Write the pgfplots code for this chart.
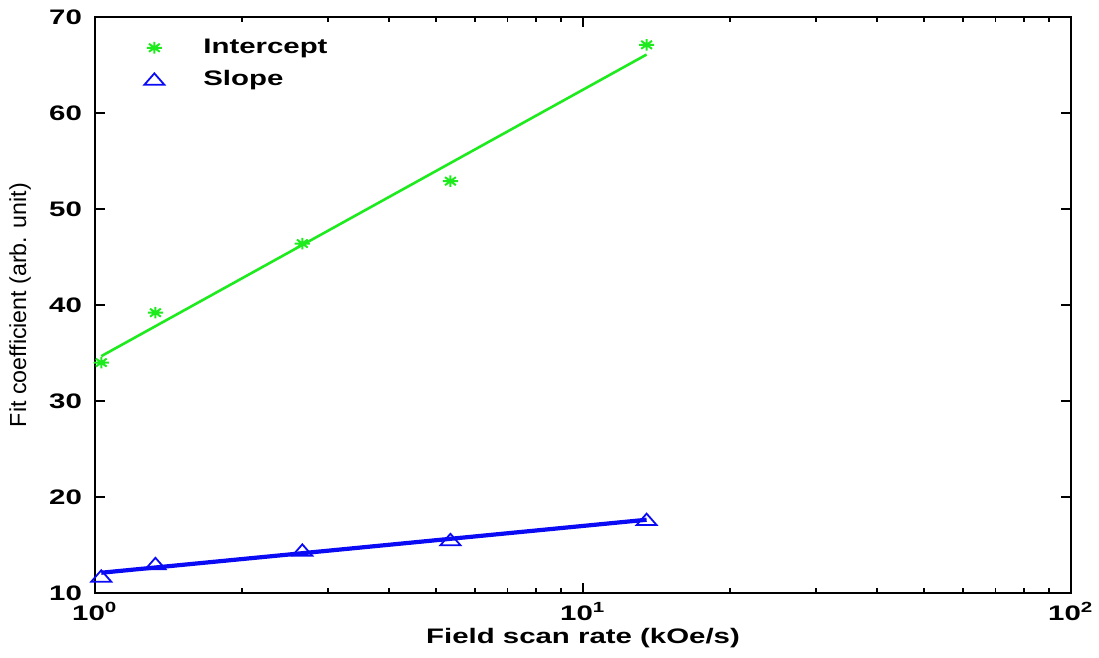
\documentclass[border=0pt]{standalone}
\usepackage{pgfplots}
\pgfplotsset{compat=1.18}
\usepackage{graphicx}
\usepackage{fontspec}
\setmainfont{Liberation Sans}
\definecolor{fitgreen}{RGB}{30,235,30}
\definecolor{fitblue}{RGB}{10,10,245}
% wide lettering used for the horizontal texts
\newcommand{\wide}[1]{\scalebox{1.4}[1]{#1}}
% eight-armed asterisk and flat open triangle
\pgfdeclareplotmark{wstar}{%
  \pgfpathmoveto{\pgfqpoint{-3.8pt}{0pt}}\pgfpathlineto{\pgfqpoint{3.8pt}{0pt}}%
  \pgfpathmoveto{\pgfqpoint{0pt}{-2.9pt}}\pgfpathlineto{\pgfqpoint{0pt}{2.9pt}}%
  \pgfpathmoveto{\pgfqpoint{-2.7pt}{-2.0pt}}\pgfpathlineto{\pgfqpoint{2.7pt}{2.0pt}}%
  \pgfpathmoveto{\pgfqpoint{-2.7pt}{2.0pt}}\pgfpathlineto{\pgfqpoint{2.7pt}{-2.0pt}}%
  \pgfusepathqstroke}
\pgfdeclareplotmark{wtri}{%
  \pgfpathmoveto{\pgfqpoint{0pt}{3.2pt}}%
  \pgfpathlineto{\pgfqpoint{5pt}{-2.5pt}}%
  \pgfpathlineto{\pgfqpoint{-5pt}{-2.5pt}}%
  \pgfpathclose\pgfusepathqstroke}
\begin{document}
\begin{tikzpicture}
\begin{axis}[
  name=ax,
  scale only axis,
  width=488pt, height=288pt,
  xmode=log,
  xmin=1, xmax=100,
  ymin=10, ymax=70,
  ytick={10,20,30,40,50,60,70},
  yticklabels={\wide{10},\wide{20},\wide{30},\wide{40},\wide{50},\wide{60},\wide{70}},
  xtick={1,10,100},
  xticklabels={\wide{10\textsuperscript{0}},\wide{10\textsuperscript{1}},\wide{10\textsuperscript{2}}},
  tick align=inside,
  major tick length=5pt,
  minor tick length=2.5pt,
  axis line style={line width=1pt},
  every tick/.style={black, line width=0.9pt},
  /pgf/number format/assume math mode=true,
  tick label style={font=\fontsize{10.5}{12}\bfseries},
  yticklabel style={xshift=-3pt},
  xticklabel style={yshift=-1pt},
  xlabel={\wide{Field scan rate (kOe/s)}},
  xlabel style={font=\fontsize{10.5}{12}\bfseries, at={(axis description cs:0.5,-0.078)}, anchor=center},
  ylabel={Fit coefficient (arb. unit)},
  ylabel style={font=\fontsize{11.6}{13}\selectfont, at={(axis description cs:-0.0768,0.5)}, anchor=center},
  legend style={draw=none, fill=none, at={(axis description cs:0.043,0.978)}, anchor=north west,
    font=\fontsize{10.5}{12}\bfseries, row sep=2.3pt,
    nodes={inner sep=2pt, text height=7.5pt, text depth=2.2pt}},
  legend cell align=left,
  legend image code/.code={\draw[#1] plot coordinates {(0pt,0pt)}; \path (-5pt,0pt) (22pt,0pt);},
  clip=false,
]
% measured fit coefficients
\addplot[only marks, mark=wstar, color=fitgreen, line width=1pt]
  coordinates {(1.03,34.0) (1.33,39.2) (2.66,46.4) (5.35,52.9) (13.5,67.1)};
\addlegendentry{\wide{Intercept}}
\addplot[only marks, mark=wtri, color=fitblue, line width=0.9pt]
  coordinates {(1.03,11.7) (1.33,13.0) (2.66,14.4) (5.35,15.5) (13.5,17.6)};
\addlegendentry{\wide{Slope}}
% logarithmic fits
\addplot[fitgreen, line width=1.3pt, forget plot]
  coordinates {(1.03,34.67) (13.5,66.09)};
\addplot[fitblue, line width=2.1pt, forget plot]
  coordinates {(1.03,12.11) (13.5,17.63)};
\end{axis}
\pgfresetboundingbox
\path[use as bounding box] ([xshift=-47.5pt,yshift=-32.5pt]ax.south west) rectangle ([xshift=14pt,yshift=8.5pt]ax.north east);
\end{tikzpicture}
\end{document}
